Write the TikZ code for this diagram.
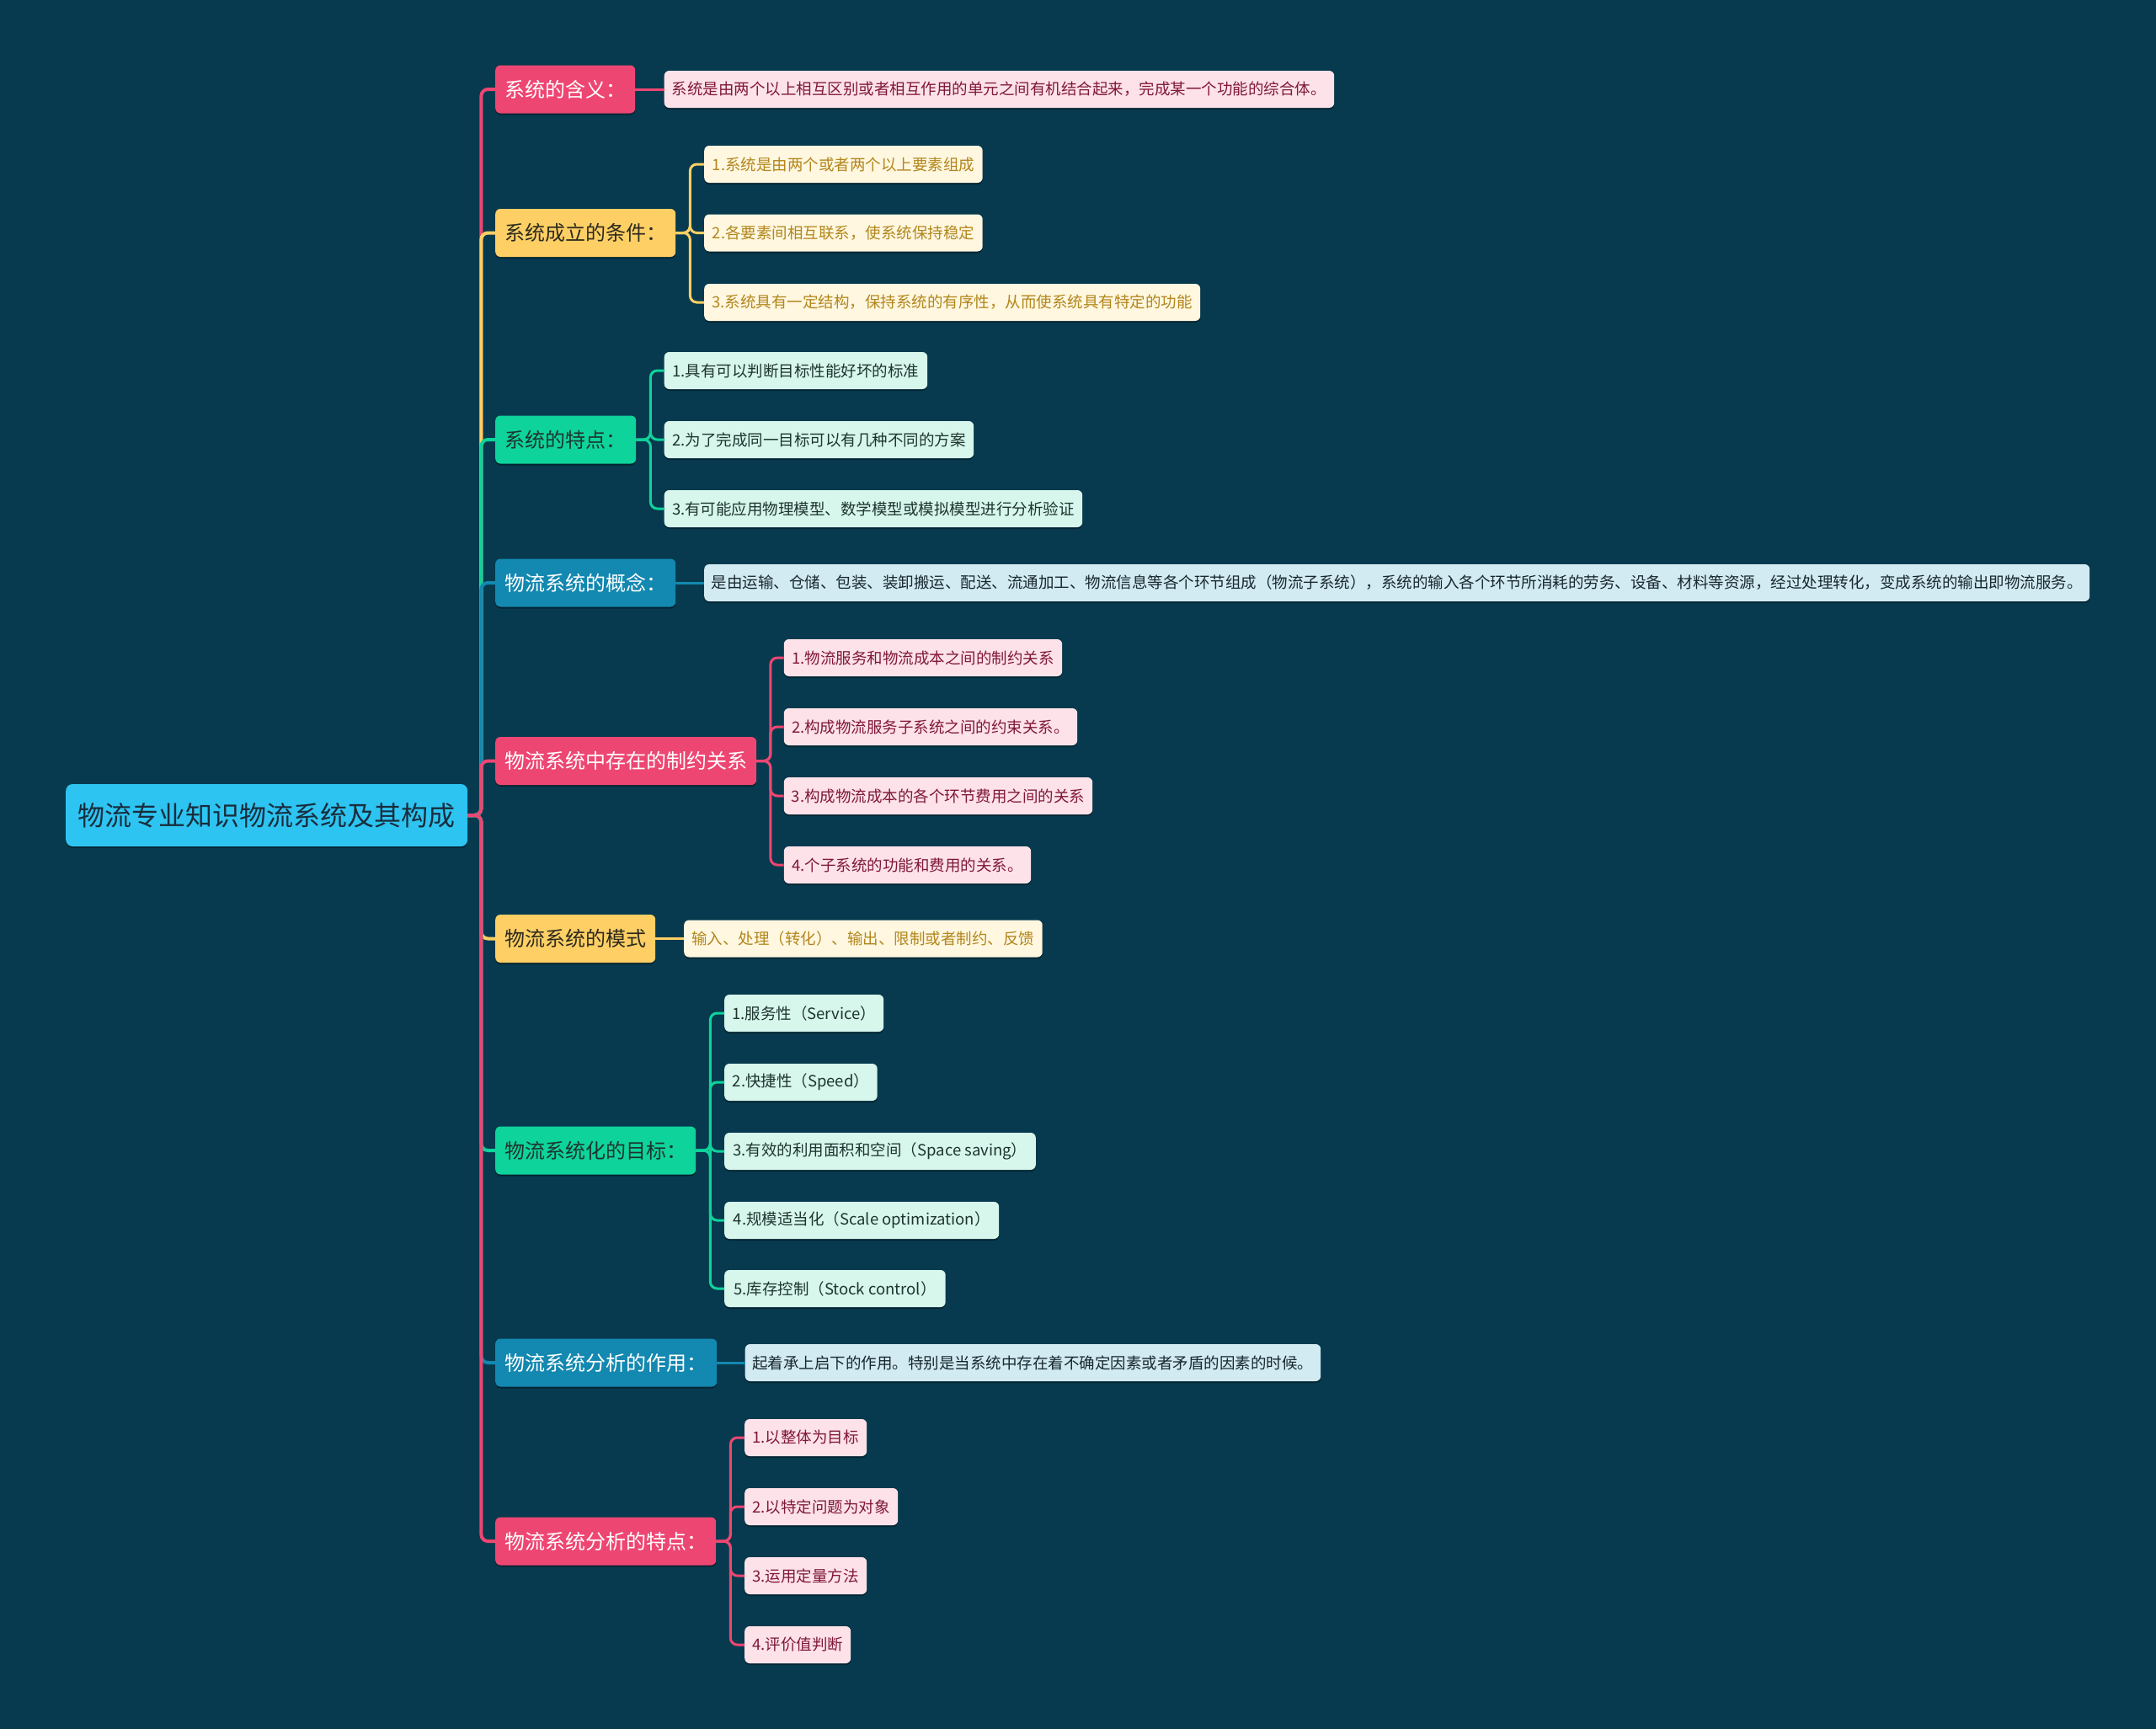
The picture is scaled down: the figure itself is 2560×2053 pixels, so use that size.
\documentclass[tikz,border=0pt]{standalone}
\usepackage{fontspec}
\newfontfamily\cjk{Noto Sans CJK SC}
\usetikzlibrary{shadows}
\definecolor{bg}{RGB}{7,58,78}
\definecolor{cred}{RGB}{238,70,114}
\definecolor{cyel}{RGB}{253,207,100}
\definecolor{cgrn}{RGB}{14,211,155}
\definecolor{cblu}{RGB}{19,136,176}
\definecolor{croot}{RGB}{45,196,242}
\definecolor{lred}{RGB}{253,226,233}
\definecolor{lyel}{RGB}{255,247,224}
\definecolor{lgrn}{RGB}{215,247,237}
\definecolor{lblu}{RGB}{210,234,241}
\definecolor{tred}{RGB}{128,24,58}
\definecolor{tyel}{RGB}{178,134,28}
\definecolor{tgrn}{RGB}{30,52,46}
\definecolor{tblu}{RGB}{24,40,48}
\definecolor{tdark}{RGB}{45,42,30}
\definecolor{troot}{RGB}{25,45,60}
\begin{document}
\begin{tikzpicture}[x=1pt,y=-1pt,
  base/.style={rounded corners=6pt, anchor=west, inner xsep=8pt, inner ysep=0pt,
    drop shadow={shadow xshift=0pt, shadow yshift=-2pt, opacity=0.35, fill=black}},
  rootbox/.style={base, fill=croot, text=troot, minimum height=74pt, rounded corners=8pt,
    font=\cjk\fontsize{32}{38}\selectfont},
  lone/.style={base, minimum height=57pt, font=\cjk\fontsize{24}{28}\selectfont},
  ltwo/.style={base, minimum height=44pt, font=\cjk\fontsize{18.5}{22}\selectfont},
  redone/.style={lone, fill=cred, text=white},
  yelone/.style={lone, fill=cyel, text=tdark},
  grnone/.style={lone, fill=cgrn, text=tgrn},
  bluone/.style={lone, fill=cblu, text=white},
  redtwo/.style={ltwo, fill=lred, text=tred},
  yeltwo/.style={ltwo, fill=lyel, text=tyel},
  grntwo/.style={ltwo, fill=lgrn, text=tgrn},
  blutwo/.style={ltwo, fill=lblu, text=tblu},
  connone/.style={line width=4pt, rounded corners=8pt},
  conntwo/.style={line width=3pt, rounded corners=8pt}
]
\path[fill=bg] (0,0) rectangle (2560,2053);

% root
\node[rootbox, minimum width=477pt] (root) at (78,968) {物流专业知识物流系统及其构成};

% level one
\node[redone, minimum width=166pt] (a) at (588,106) {系统的含义：};
\node[yelone, minimum width=214pt] (b) at (588,276.5) {系统成立的条件：};
\node[grnone, minimum width=167pt] (c) at (588,522) {系统的特点：};
\node[bluone, minimum width=214pt] (d) at (588,692) {物流系统的概念：};
\node[redone, minimum width=310pt] (e) at (588,903.5) {物流系统中存在的制约关系};
\node[yelone, minimum width=190pt] (f) at (588,1114.5) {物流系统的模式};
\node[grnone, minimum width=238pt] (g) at (588,1366) {物流系统化的目标：};
\node[bluone, minimum width=263pt] (h) at (588,1618) {物流系统分析的作用：};
\node[redone, minimum width=262pt] (i) at (588,1830) {物流系统分析的特点：};

% level two
\node[redtwo, minimum width=795.5pt] (a1) at (788.5,106) {系统是由两个以上相互区别或者相互作用的单元之间有机结合起来，完成某一个功能的综合体。};

\node[yeltwo, minimum width=330.5pt] (b1) at (836,195) {1.系统是由两个或者两个以上要素组成};
\node[yeltwo, minimum width=330.5pt] (b2) at (836,276.5) {2.各要素间相互联系，使系统保持稳定};
\node[yeltwo, minimum width=589pt] (b3) at (836,359) {3.系统具有一定结构，保持系统的有序性，从而使系统具有特定的功能};

\node[grntwo, minimum width=312.5pt] (c1) at (788.5,440) {1.具有可以判断目标性能好坏的标准};
\node[grntwo, minimum width=367.5pt] (c2) at (788.5,522) {2.为了完成同一目标可以有几种不同的方案};
\node[grntwo, minimum width=496.5pt] (c3) at (788.5,604) {3.有可能应用物理模型、数学模型或模拟模型进行分析验证};

\node[blutwo, minimum width=1645pt] (d1) at (836,692) {是由运输、仓储、包装、装卸搬运、配送、流通加工、物流信息等各个环节组成（物流子系统），系统的输入各个环节所消耗的劳务、设备、材料等资源，经过处理转化，变成系统的输出即物流服务。};

\node[redtwo, minimum width=330.4pt] (e1) at (930.6,781) {1.物流服务和物流成本之间的制约关系};
\node[redtwo, minimum width=348.4pt] (e2) at (930.6,863) {2.构成物流服务子系统之间的约束关系。};
\node[redtwo, minimum width=366.4pt] (e3) at (930.6,945) {3.构成物流成本的各个环节费用之间的关系};
\node[redtwo, minimum width=293.4pt] (e4) at (930.6,1027) {4.个子系统的功能和费用的关系。};

\node[yeltwo, minimum width=425.5pt] (f1) at (812,1114.5) {输入、处理（转化）、输出、限制或者制约、反馈};

\node[grntwo, minimum width=189pt] (g1) at (860,1203) {1.服务性（Service）};
\node[grntwo, minimum width=181.5pt] (g2) at (860,1285) {2.快捷性（Speed）};
\node[grntwo, minimum width=369.6pt] (g3) at (860,1367) {3.有效的利用面积和空间（Space saving）};
\node[grntwo, minimum width=326pt] (g4) at (860,1449) {4.规模适当化（Scale optimization）};
\node[grntwo, minimum width=262.5pt] (g5) at (860,1530) {5.库存控制（Stock control）};

\node[blutwo, minimum width=683.5pt] (h1) at (884.5,1618) {起着承上启下的作用。特别是当系统中存在着不确定因素或者矛盾的因素的时候。};

\node[redtwo, minimum width=145pt] (i1) at (884,1707) {1.以整体为目标};
\node[redtwo, minimum width=182pt] (i2) at (884,1789) {2.以特定问题为对象};
\node[redtwo, minimum width=145pt] (i3) at (884,1871) {3.运用定量方法};
\node[redtwo, minimum width=126pt] (i4) at (884,1953) {4.评价值判断};

% level one connectors (above root: farthest first; below root: nearest first)
\draw[connone, cred] (root.east) -- ++(16,0) |- (a.west);
\draw[connone, cyel] (root.east) -- ++(16,0) |- (b.west);
\draw[connone, cgrn] (root.east) -- ++(16,0) |- (c.west);
\draw[connone, cblu] (root.east) -- ++(16,0) |- (d.west);
\draw[connone, cred] (root.east) -- ++(16,0) |- (e.west);
\draw[connone, cyel] (root.east) -- ++(16,0) |- (f.west);
\draw[connone, cgrn] (root.east) -- ++(16,0) |- (g.west);
\draw[connone, cblu] (root.east) -- ++(16,0) |- (h.west);
\draw[connone, cred] (root.east) -- ++(16,0) |- (i.west);

% level two connectors
\draw[conntwo, cred] (a.east) -- (a1.west);
\foreach \k in {b1,b2,b3} \draw[conntwo, cyel] (b.east) -- ++(17,0) |- (\k.west);
\foreach \k in {c1,c2,c3} \draw[conntwo, cgrn] (c.east) -- ++(17,0) |- (\k.west);
\draw[conntwo, cblu] (d.east) -- (d1.west);
\foreach \k in {e1,e2,e3,e4} \draw[conntwo, cred] (e.east) -- ++(16.5,0) |- (\k.west);
\draw[conntwo, cyel] (f.east) -- (f1.west);
\foreach \k in {g1,g2,g3,g4,g5} \draw[conntwo, cgrn] (g.east) -- ++(17,0) |- (\k.west);
\draw[conntwo, cblu] (h.east) -- (h1.west);
\foreach \k in {i1,i2,i3,i4} \draw[conntwo, cred] (i.east) -- ++(17,0) |- (\k.west);
\end{tikzpicture}
\end{document}
